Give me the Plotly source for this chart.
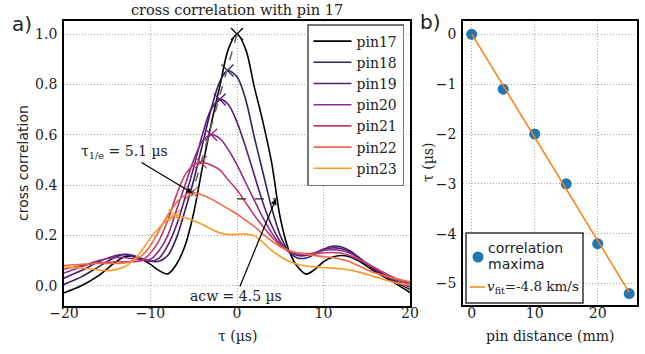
import numpy as np
import plotly.graph_objects as go

# ---------------- data: panel a (cross correlation vs lag) ----------------
pins = ["pin17", "pin18", "pin19", "pin20", "pin21", "pin22", "pin23"]
pin_colors = ["#000000", "#33215f", "#5a1a7c", "#8e2d85", "#c73c66", "#ec6b45", "#fb9a22"]

tau_pin17 = [-20, -18, -16, -14, -13, -12, -11, -10, -9, -8, -7, -6, -5, -4, -3, -2, -1, 0,
             1, 2, 3, 4, 5, 6, 7, 8, 9, 10, 11, 12, 13, 14, 16, 18, 20]
cc_pin17 = [-0.028, 0.0, 0.04, 0.095, 0.115, 0.117, 0.105, 0.085, 0.06, 0.047, 0.085, 0.16, 0.29, 0.47, 0.64, 0.79, 0.94, 1.0,
            0.94, 0.79, 0.65, 0.49, 0.27, 0.14, 0.075, 0.046, 0.065, 0.095, 0.113, 0.12, 0.115, 0.1, 0.055, 0.015, -0.027]

tau_pin18 = [-20, -18, -16, -14, -13, -12, -11, -10, -9, -8, -7, -6, -5, -4, -3, -2, -1.1, 0,
             1, 2, 3, 4, 5, 6, 7, 8, 9, 10, 11, 12, 13, 14, 16, 18, 20]
cc_pin18 = [0.005, 0.035, 0.075, 0.115, 0.125, 0.12, 0.108, 0.097, 0.097, 0.12, 0.19, 0.3, 0.42, 0.56, 0.7, 0.81, 0.855, 0.83,
            0.74, 0.59, 0.45, 0.31, 0.2, 0.135, 0.11, 0.11, 0.125, 0.145, 0.157, 0.155, 0.14, 0.115, 0.06, 0.02, -0.015]

tau_pin19 = [-20, -18, -16, -14, -13, -12, -11, -10, -9, -8, -7, -6, -5, -4, -3, -2.0, -1, 0,
             1, 2, 3, 4, 5, 6, 7, 8, 9, 10, 11, 12, 13, 14, 16, 18, 20]
cc_pin19 = [0.03, 0.06, 0.095, 0.12, 0.123, 0.115, 0.103, 0.097, 0.11, 0.16, 0.24, 0.35, 0.47, 0.6, 0.7, 0.74, 0.72, 0.65,
            0.55, 0.44, 0.33, 0.24, 0.175, 0.135, 0.12, 0.12, 0.13, 0.145, 0.15, 0.148, 0.135, 0.11, 0.065, 0.025, -0.005]

tau_pin20 = [-20, -18, -16, -14, -13, -12, -11, -10, -9, -8, -7, -6, -5, -4, -3.0, -2, -1, 0,
             1, 2, 3, 4, 5, 6, 7, 8, 9, 10, 11, 12, 13, 14, 16, 18, 20]
cc_pin20 = [0.05, 0.075, 0.1, 0.112, 0.112, 0.107, 0.1, 0.105, 0.14, 0.2, 0.3, 0.4, 0.5, 0.575, 0.6, 0.585, 0.54, 0.48,
            0.41, 0.34, 0.27, 0.21, 0.165, 0.135, 0.125, 0.125, 0.13, 0.14, 0.143, 0.14, 0.13, 0.11, 0.07, 0.03, 0.005]

tau_pin21 = [-20, -18, -16, -14, -13, -12, -11, -10, -9, -8, -7, -6, -5, -4.2, -3, -2, -1, 0,
             1, 2, 3, 4, 5, 6, 7, 8, 9, 10, 11, 12, 13, 14, 16, 18, 20]
cc_pin21 = [0.065, 0.08, 0.09, 0.095, 0.095, 0.095, 0.1, 0.13, 0.18, 0.26, 0.36, 0.44, 0.48, 0.49, 0.48, 0.46, 0.42, 0.38,
            0.33, 0.28, 0.235, 0.195, 0.16, 0.14, 0.13, 0.128, 0.128, 0.13, 0.132, 0.13, 0.12, 0.105, 0.07, 0.035, 0.01]

tau_pin22 = [-20, -18, -16, -14, -13, -12, -11, -10, -9, -8, -7, -6, -5.2, -4, -3, -2, -1, 0,
             1, 2, 3, 4, 5, 6, 7, 8, 9, 10, 11, 12, 13, 14, 16, 18, 20]
cc_pin22 = [0.08, 0.085, 0.088, 0.088, 0.09, 0.1, 0.12, 0.16, 0.22, 0.28, 0.33, 0.36, 0.37, 0.36, 0.345, 0.325, 0.305, 0.285,
            0.26, 0.235, 0.205, 0.178, 0.155, 0.14, 0.13, 0.125, 0.12, 0.115, 0.112, 0.105, 0.095, 0.08, 0.05, 0.03, 0.015]

tau_pin23 = [-20, -18, -16, -14.7, -13, -12, -11, -10, -9, -8, -7.2, -6, -5, -4, -3, -2, -1, 0,
             1, 2, 3, 4, 5, 6, 7, 8, 9, 10, 12, 14, 16, 18, 20]
cc_pin23 = [0.075, 0.07, 0.063, 0.06, 0.075, 0.1, 0.14, 0.19, 0.23, 0.262, 0.28, 0.27, 0.258, 0.243, 0.225, 0.21, 0.203, 0.204,
            0.205, 0.198, 0.172, 0.14, 0.116, 0.097, 0.085, 0.078, 0.075, 0.072, 0.067, 0.055, 0.035, 0.015, 0.003]

tau_lists = [tau_pin17, tau_pin18, tau_pin19, tau_pin20, tau_pin21, tau_pin22, tau_pin23]
cc_lists = [cc_pin17, cc_pin18, cc_pin19, cc_pin20, cc_pin21, cc_pin22, cc_pin23]

peak_tau = [0.0, -1.1, -2.0, -3.0, -4.2, -5.2, -7.2]
peak_cc = [1.0, 0.855, 0.74, 0.6, 0.49, 0.37, 0.28]

decay_tau = [0.0, -5.25]
decay_cc = [1.0, 0.355]
acw_tau = [0.0, 4.5]
acw_cc = [0.345, 0.345]

# ---------------- data: panel b ----------------
pin_distance_mm = [0, 5, 10, 15, 20, 25]
tau_maxima_us = [0.0, -1.1, -2.0, -3.0, -4.2, -5.2]

SERIF = "DejaVu Serif"
SANS = "DejaVu Sans"
W, H = 645, 354
BLUE, ORANGE = "#1f77b4", "#ff7f0e"

def px(x):
    return x / W

def py(y):
    return 1 - y / H

fig = go.Figure()

for name, col, t, c in zip(pins, pin_colors, tau_lists, cc_lists):
    fig.add_trace(go.Scatter(x=t, y=c, mode="lines", name=name, legendgroup=name,
                             line=dict(color=col, width=1.6, shape="spline", smoothing=0.9),
                             xaxis="x", yaxis="y", legend="legend"))

for col, t, c in zip(pin_colors, peak_tau, peak_cc):
    fig.add_trace(go.Scatter(x=[t], y=[c], mode="markers", showlegend=False,
                             marker=dict(symbol="x-thin", size=12, line=dict(color=col, width=1.3)),
                             xaxis="x", yaxis="y"))

fig.add_trace(go.Scatter(x=decay_tau, y=decay_cc, mode="lines", showlegend=False,
                         line=dict(color="#666666", width=1.6, dash="dash"), xaxis="x", yaxis="y"))
fig.add_trace(go.Scatter(x=acw_tau, y=acw_cc, mode="lines", showlegend=False,
                         line=dict(color="#222222", width=1.2, dash="dash"), xaxis="x", yaxis="y"))

# panel b
fig.add_trace(go.Scatter(x=pin_distance_mm, y=tau_maxima_us, mode="markers", showlegend=False,
                         name="correlation maxima", marker=dict(color=BLUE, size=11),
                         xaxis="x2", yaxis="y2"))
slope, intercept = np.polyfit(pin_distance_mm, tau_maxima_us, 1)
fit_x = np.array([pin_distance_mm[0], pin_distance_mm[-1]], dtype=float)
fig.add_trace(go.Scatter(x=fit_x, y=slope * fit_x + intercept, mode="lines", showlegend=False,
                         name="v_fit", line=dict(color=ORANGE, width=1.5),
                         xaxis="x2", yaxis="y2"))

axis_common = dict(showline=True, linecolor="black", linewidth=1.8, mirror=True,
                   showgrid=True, gridcolor="#a8a8a8", griddash="1px,2px", gridwidth=1,
                   ticks="", automargin=False, zeroline=False,
                   tickfont=dict(family=SERIF, size=14, color="#222"))

fig.update_layout(
    template="none",
    width=W, height=H, margin=dict(l=0, r=0, t=0, b=0, pad=0),
    paper_bgcolor="white", plot_bgcolor="white",
    xaxis=dict(domain=[px(64), px(410)], range=[-20, 20], dtick=10, anchor="y",
               ticklabelstandoff=-6, **axis_common),
    yaxis=dict(domain=[py(305.7), py(21)], range=[-0.0795, 1.0517], dtick=0.2, tickformat=".1f",
               anchor="x", ticklabelstandoff=2, **axis_common),
    xaxis2=dict(domain=[px(463), px(637)], range=[-1.38, 26.24], dtick=10, anchor="y2",
                ticklabelstandoff=-6, **axis_common),
    yaxis2=dict(domain=[py(305), py(21)], range=[-5.43, 0.267], dtick=1, anchor="x2",
                ticklabelstandoff=2, **axis_common),
    legend=dict(x=px(307), y=py(24), xanchor="left", yanchor="top", itemwidth=38,
                bgcolor="white", bordercolor="#777777", borderwidth=1.5,
                font=dict(family=SERIF, size=14, color="#222"), tracegroupgap=0),
    showlegend=True,
)

# legend box of panel b (drawn as layout shapes + text)
shapes = [
    dict(type="rect", xref="paper", yref="paper", x0=px(466), x1=px(583), y0=py(303), y1=py(233),
         fillcolor="rgba(255,255,255,0.85)", line=dict(color="#333333", width=1.5)),
    dict(type="circle", xref="paper", yref="paper", x0=px(472.5), x1=px(483.5),
         y0=py(262.5), y1=py(251.5), fillcolor=BLUE, line=dict(width=0)),
    dict(type="line", xref="paper", yref="paper", x0=px(470), x1=px(485),
         y0=py(287), y1=py(287), line=dict(color=ORANGE, width=1.5)),
]
fig.update_layout(shapes=shapes)

def ann(text, x, y, size=14, family=SERIF, angle=0, xanchor="center"):
    return dict(text=text, x=px(x), y=py(y), xref="paper", yref="paper", showarrow=False,
                xanchor=xanchor, yanchor="middle", textangle=angle,
                font=dict(family=family, size=size, color="#222"))

annotations = [
    ann("cross correlation with pin 17", 237, 10, size=14.5),
    ann("a)", 22, 24, size=20, family=SANS),
    ann("b)", 430, 22, size=20, family=SANS),
    ann("cross correlation", 23, 163, family=SANS, angle=-90),
    ann("τ (µs)", 237, 336),
    ann("pin distance (mm)", 550, 336),
    ann("τ (µs)", 428, 163, angle=-90),
    ann("correlation", 486, 248, family=SANS, xanchor="left"),
    ann("maxima", 486, 264, family=SANS, xanchor="left"),
    ann("<i>v</i><sub>fit</sub>=-4.8 km/s", 485, 287, size=13.5, xanchor="left"),
    dict(text="τ<sub>1/e</sub> = 5.1 µs", x=-5.15, y=0.368, ax=-13.06, ay=0.531,
         xref="x", yref="y", axref="x", ayref="y", showarrow=True,
         arrowhead=2, arrowsize=1, arrowwidth=1.2, arrowcolor="black",
         font=dict(family=SERIF, size=14, color="#222")),
    dict(text="acw = 4.5 µs", x=4.5, y=0.345, ax=-0.12, ay=-0.041,
         xref="x", yref="y", axref="x", ayref="y", showarrow=True,
         arrowhead=2, arrowsize=1, arrowwidth=1.2, arrowcolor="black",
         font=dict(family=SERIF, size=14, color="#222")),
]
fig.update_layout(annotations=annotations)

fig.write_html("out.html", config={"displayModeBar": False})
